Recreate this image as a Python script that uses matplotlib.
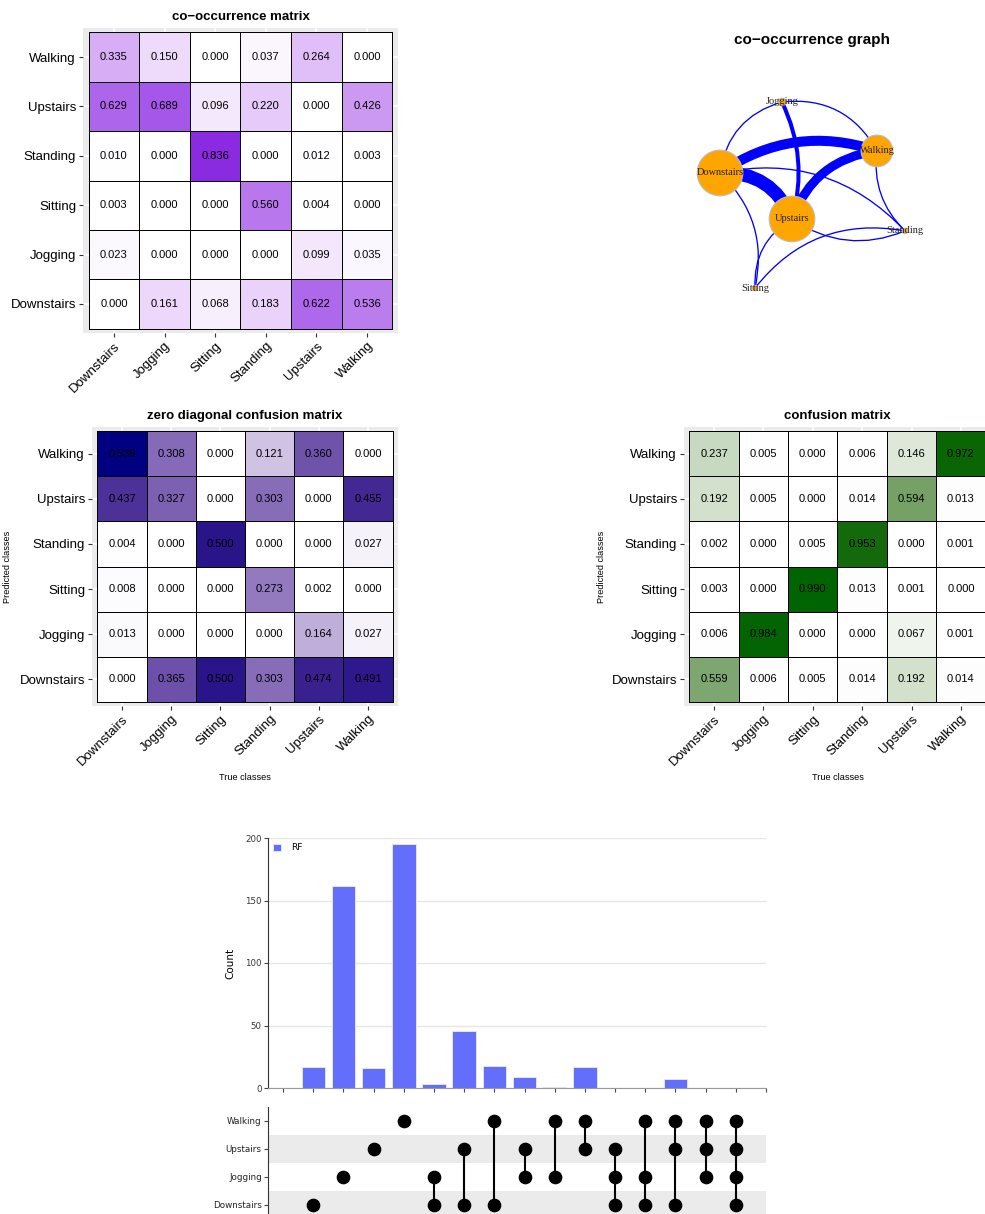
"""Activity-recognition summary sheet: co-occurrence, confusion matrices and an UpSet view."""
import numpy as np
import matplotlib

matplotlib.use("Agg")
import matplotlib.pyplot as plt
from matplotlib.colors import ListedColormap, to_rgb
from matplotlib.patches import FancyArrowPatch

plt.rcParams["font.family"] = "Liberation Sans"

W, H = 985, 1214

CLASSES = ["Downstairs", "Jogging", "Sitting", "Standing", "Upstairs", "Walking"]
ROWS = ["Walking", "Upstairs", "Standing", "Sitting", "Jogging", "Downstairs"]  # top to bottom

COOCCURRENCE = [
    [0.335, 0.150, 0.000, 0.037, 0.264, 0.000],
    [0.629, 0.689, 0.096, 0.220, 0.000, 0.426],
    [0.010, 0.000, 0.836, 0.000, 0.012, 0.003],
    [0.003, 0.000, 0.000, 0.560, 0.004, 0.000],
    [0.023, 0.000, 0.000, 0.000, 0.099, 0.035],
    [0.000, 0.161, 0.068, 0.183, 0.622, 0.536],
]
ZERO_DIAG = [
    [0.539, 0.308, 0.000, 0.121, 0.360, 0.000],
    [0.437, 0.327, 0.000, 0.303, 0.000, 0.455],
    [0.004, 0.000, 0.500, 0.000, 0.000, 0.027],
    [0.008, 0.000, 0.000, 0.273, 0.002, 0.000],
    [0.013, 0.000, 0.000, 0.000, 0.164, 0.027],
    [0.000, 0.365, 0.500, 0.303, 0.474, 0.491],
]
CONFUSION = [
    [0.237, 0.005, 0.000, 0.006, 0.146, 0.972],
    [0.192, 0.005, 0.000, 0.014, 0.594, 0.013],
    [0.002, 0.000, 0.005, 0.953, 0.000, 0.001],
    [0.003, 0.000, 0.990, 0.013, 0.001, 0.000],
    [0.006, 0.984, 0.000, 0.000, 0.067, 0.001],
    [0.559, 0.006, 0.005, 0.014, 0.192, 0.014],
]

# graph layout (unit square) and node sizes
NODE_NAMES = ["Jogging", "Walking", "Downstairs", "Upstairs", "Standing", "Sitting"]
NODE_X = [0.383, 0.779, 0.125, 0.425, 0.896, 0.271]
NODE_Y = [0.943, 0.710, 0.605, 0.386, 0.329, 0.057]
NODE_SIZE = [30, 520, 1080, 1080, 16, 16]
EDGE_PAIRS = [
    ("Downstairs", "Walking"), ("Downstairs", "Upstairs"), ("Upstairs", "Walking"),
    ("Jogging", "Upstairs"), ("Jogging", "Downstairs"), ("Jogging", "Walking"),
    ("Downstairs", "Standing"), ("Downstairs", "Sitting"), ("Upstairs", "Standing"),
    ("Upstairs", "Sitting"), ("Sitting", "Standing"), ("Walking", "Standing"),
]
EDGE_WIDTH = [7.2, 9.6, 6.5, 2.9, 0.95, 0.95, 0.95, 0.95, 0.95, 0.95, 0.95, 0.95]
EDGE_BEND = [-0.25, -0.35, -0.3, -0.19, 0.32, -0.33, -0.28, -0.28, 0.27, 0.3, -0.3, 0.25]

# UpSet: sets bottom to top, intersections left to right
SETS = ["Downstairs", "Jogging", "Upstairs", "Walking"]
COMBOS = [
    ("Downstairs",), ("Jogging",), ("Upstairs",), ("Walking",),
    ("Jogging", "Downstairs"), ("Upstairs", "Downstairs"), ("Walking", "Downstairs"),
    ("Upstairs", "Jogging"), ("Walking", "Jogging"), ("Walking", "Upstairs"),
    ("Upstairs", "Jogging", "Downstairs"), ("Walking", "Jogging", "Downstairs"),
    ("Walking", "Upstairs", "Downstairs"), ("Walking", "Upstairs", "Jogging"),
    ("Walking", "Upstairs", "Jogging", "Downstairs"),
]
COUNTS = [17, 162, 16, 195, 3, 46, 18, 9, 1, 17, 0, 0, 7, 0, 0]

_M = np.array([[0.4124564, 0.3575761, 0.1804375],
               [0.2126729, 0.7151522, 0.0721750],
               [0.0193339, 0.1191920, 0.9503041]])
_WHITE = np.array([0.95047, 1.0, 1.08883])
_D = 6 / 29


def _to_lab(rgb):
    rgb = np.asarray(rgb, float)
    lin = np.where(rgb <= 0.04045, rgb / 12.92, ((rgb + 0.055) / 1.055) ** 2.4)
    t = (lin @ _M.T) / _WHITE
    f = np.where(t > _D ** 3, np.cbrt(t), t / (3 * _D ** 2) + 4 / 29)
    return np.stack([116 * f[..., 1] - 16, 500 * (f[..., 0] - f[..., 1]), 200 * (f[..., 1] - f[..., 2])], -1)


def _from_lab(lab):
    fy = (lab[..., 0] + 16) / 116
    f = np.stack([fy + lab[..., 1] / 500, fy, fy - lab[..., 2] / 200], -1)
    t = np.where(f > _D, f ** 3, 3 * _D ** 2 * (f - 4 / 29))
    lin = np.clip((t * _WHITE) @ np.linalg.inv(_M).T, 0, 1)
    return np.clip(np.where(lin <= 0.0031308, 12.92 * lin, 1.055 * lin ** (1 / 2.4) - 0.055), 0, 1)


def lab_ramp(high, n=256):
    """white -> high, interpolated in CIELAB like ggplot's gradient scale"""
    lo, hi = _to_lab(np.ones(3)), _to_lab(to_rgb(high))
    t = np.linspace(0, 1, n)[:, None]
    return ListedColormap(_from_lab(lo + (hi - lo) * t))


def px_axes(fig, x0, y0, x1, y1):
    return fig.add_axes([x0 / W, 1 - y1 / H, (x1 - x0) / W, (y1 - y0) / H])


def heat_panel(ax, values, high, title, labelled=False, ylab_x=-0.26):
    mat = np.asarray(values)[::-1]
    n = mat.shape[0]
    edges = np.arange(n + 1) - 0.5
    ax.set_facecolor("#EBEBEB")
    ax.set_axisbelow(True)
    ax.grid(color="white", lw=1.1)
    ax.pcolormesh(edges, edges, mat, cmap=lab_ramp(high), vmin=0, vmax=mat.max(),
                  edgecolors="black", linewidth=0.5)
    for i in range(n):
        for j in range(n):
            ax.text(j, i, f"{mat[i, j]:.3f}", ha="center", va="center", fontsize=8, color="black")
    ax.set_xlim(-0.61, n - 0.39)
    ax.set_ylim(-0.59, n - 0.41)
    ax.set_xticks(range(n))
    ax.set_xticklabels(CLASSES, rotation=45, ha="right", va="top", rotation_mode="anchor")
    ax.set_yticks(range(n))
    ax.set_yticklabels(ROWS[::-1])
    ax.tick_params(length=3, width=0.8, color="#333333", labelsize=9.5, labelcolor="black", pad=2)
    for s in ax.spines.values():
        s.set_visible(False)
    ax.set_title(title, fontsize=9.5, fontweight="bold", pad=6)
    if labelled:
        ax.set_xlabel("True classes", fontsize=6.6)
        ax.xaxis.set_label_coords(0.5, -0.24)
        ax.set_ylabel("Predicted classes", fontsize=6.6)
        ax.yaxis.set_label_coords(ylab_x, 0.5)


def graph_panel(fig):
    ax = px_axes(fig, 690, 90, 930, 300)
    ax.set_xlim(0, 1)
    ax.set_ylim(0, 1)
    ax.axis("off")
    pos = {n: (x, y) for n, x, y in zip(NODE_NAMES, NODE_X, NODE_Y)}
    for (a, b), w, r in zip(EDGE_PAIRS, EDGE_WIDTH, EDGE_BEND):
        ax.add_patch(FancyArrowPatch(pos[a], pos[b], arrowstyle="-", connectionstyle=f"arc3,rad={r}",
                                     lw=w, color="#0000FF", shrinkA=0, shrinkB=0, zorder=1,
                                     capstyle="butt"))
    ax.scatter(NODE_X, NODE_Y, s=NODE_SIZE, color="#FFA500", edgecolor="#BDBDBD", lw=0.8,
               zorder=2, clip_on=False)
    for n, x, y in zip(NODE_NAMES, NODE_X, NODE_Y):
        ax.text(x, y, n, ha="center", va="center", fontsize=7.5, family="Liberation Serif",
                color="#222222", zorder=3)
    fig.text(812 / W, 1 - 40 / H, "co\u2212occurrence graph", ha="center", va="center",
             fontsize=11, fontweight="bold")


def upset_panel(fig):
    fam = "DejaVu Sans"
    x = np.arange(1, len(COUNTS) + 1)

    ax = px_axes(fig, 268, 838, 766, 1088)
    ax.set_axisbelow(True)
    ax.yaxis.grid(True, color="#E6E6E6", lw=1)
    ax.bar(x, COUNTS, width=0.78, color="#636EFA", edgecolor="#E2E5FE", lw=0.7, label="RF")
    ax.set_xlim(-0.5, 16)
    ax.set_ylim(0, 200)
    ax.set_xticks(range(0, 17))
    ax.set_xticklabels([])
    ax.set_yticks([0, 50, 100, 150, 200])
    ax.tick_params(length=3, width=0.8, color="#444444", labelsize=6.2, labelcolor="#333333", pad=1.5)
    for t in ax.get_yticklabels():
        t.set_family(fam)
    ax.spines[["top", "right"]].set_visible(False)
    ax.spines["left"].set_color("#333333")
    ax.spines["bottom"].set_color("#999999")
    ax.set_ylabel("Count", fontsize=7.5, family=fam, labelpad=7)
    ax.legend(loc="upper left", frameon=True, fancybox=False, edgecolor="none", facecolor="white",
              framealpha=1, handlelength=0.8, handleheight=0.9, borderaxespad=0.2,
              handletextpad=1.2, prop={"family": fam, "size": 6.5})

    mx = px_axes(fig, 268, 1107, 766, 1219)
    mx.set_xlim(-0.5, 16)
    mx.set_ylim(-0.5, len(SETS) - 0.5)
    for k in range(0, len(SETS), 2):
        mx.axhspan(k - 0.5, k + 0.5, color="#EBEBEB", lw=0, zorder=0)
    for c, combo in zip(x, COMBOS):
        ys = [SETS.index(s) for s in combo]
        mx.plot([c, c], [min(ys), max(ys)], color="black", lw=1.5, zorder=2)
        mx.scatter([c] * len(ys), ys, s=78, color="black", zorder=3, clip_on=False)
    mx.set_xticks([])
    mx.set_yticks(range(len(SETS)))
    mx.set_yticklabels(SETS, family=fam)
    mx.tick_params(length=3, width=0.8, color="#444444", labelsize=6.3, labelcolor="#222222", pad=1.5)
    mx.spines[["top", "right", "bottom"]].set_visible(False)
    mx.spines["left"].set_color("#333333")


def main():
    fig = plt.figure(figsize=(W / 100, H / 100), dpi=100)

    heat_panel(px_axes(fig, 83, 28, 398, 333), COOCCURRENCE, "#8A2BE2", "co\u2212occurrence matrix")
    graph_panel(fig)
    heat_panel(px_axes(fig, 92, 427, 398, 706), ZERO_DIAG, "#000080", "zero diagonal confusion matrix",
               labelled=True, ylab_x=-0.26)
    heat_panel(px_axes(fig, 684, 427, 991, 706), CONFUSION, "#006400", "confusion matrix",
               labelled=True, ylab_x=-0.254)
    upset_panel(fig)

    fig.savefig("out.png", dpi=100)
    plt.close(fig)


if __name__ == "__main__":
    main()
